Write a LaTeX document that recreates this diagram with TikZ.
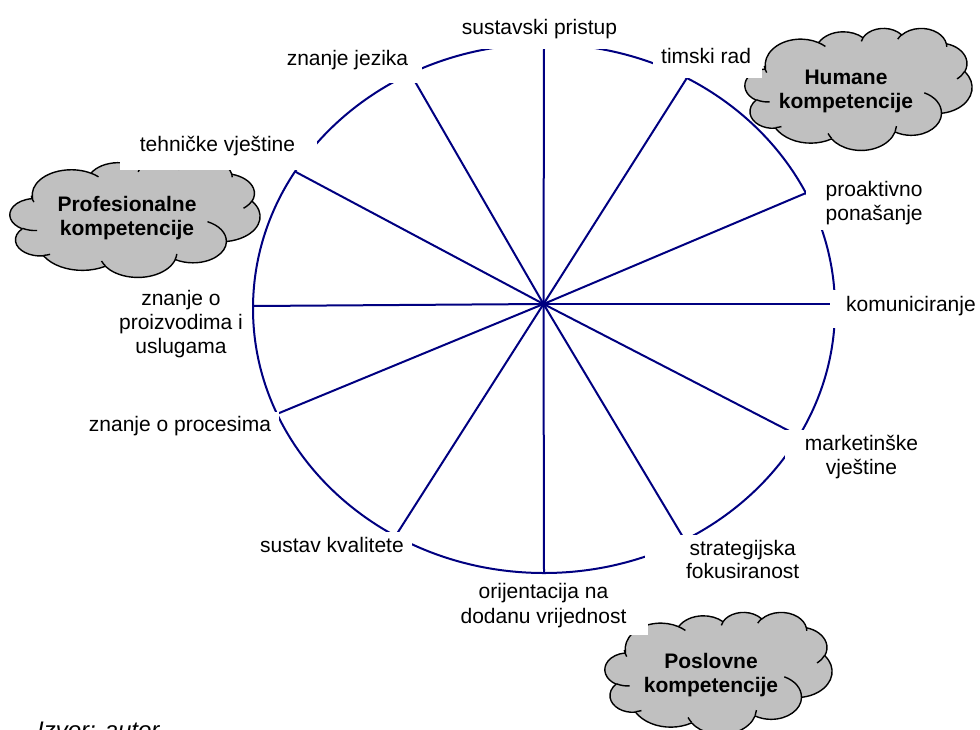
\documentclass[tikz,border=0pt]{standalone}
\usepackage{fontspec}
\setmainfont{Liberation Sans}
\definecolor{navyline}{RGB}{0,0,128}
\definecolor{cloudgray}{RGB}{192,192,192}
\newcommand{\lblfont}{\fontsize{21}{24}\selectfont}
\newcommand{\cldfont}{\fontsize{21}{24}\selectfont\bfseries}
\tikzset{
  rim/.style={draw=navyline, line width=2pt},
  spoke/.style={draw=navyline, line width=2pt},
  mask/.style={fill=white, draw=none},
  lbl/.style={font=\lblfont, inner sep=0pt, anchor=base},
  lblw/.style={font=\lblfont, inner sep=0pt, anchor=base west},
  cloudline/.style={draw=black, line width=1.4pt, line join=round},
  cloudtext/.style={font=\cldfont, align=center, inner sep=0pt},
  carc/.style n args={4}{insert path={
    arc[x radius=#1, y radius=#2,
        start angle={atan2(#1*sin(#3),#2*cos(#3))},
        delta angle={mod(atan2(#1*sin(#3+#4),#2*cos(#3+#4))-atan2(#1*sin(#3),#2*cos(#3))+720,360)}]}},
}
% cloud outline in a 432 x 432 box (x0, y0 = top left corner; units per step)
\newcommand{\wordcloud}[4]{%
\begin{scope}[shift={(#1,#2)}, x=#3pt, y=-#4pt]
  \filldraw[cloudline, fill=cloudgray] (39,143.7)
    [carc={67.53}{91.90}{-190.48748}{123.78053}]
    [carc={53.33}{72.67}{-144.10238}{89.94523}]
    [carc={43.65}{59.45}{-145.80792}{99.72302}]
    [carc={48.57}{65.95}{-130.98607}{117.24173}]
    [carc={53.33}{72.73}{-78.70888}{109.02692}]
    [carc={67.75}{92.20}{-46.26725}{130.269}]
    [carc={57.85}{78.67}{0.62502}{114.03333}]
    [carc={67.52}{92.15}{22.4516}{115.17255}]
    [carc={77.20}{105.43}{66.24263}{75.71102}]
    [carc={43.60}{59.18}{-274.94208}{146.73557}]
    [carc={43.45}{59.45}{-246.8285}{152.51885}] -- cycle;
  \draw[cloudline]
    (46.93,261.77) [carc={43.45}{59.45}{86.742}{26.4295}]
    (69.28,348.99) [carc={43.60}{59.18}{73.61047}{11.44747}]
    (164.78,390.90) [carc={67.52}{92.15}{137.62415}{14.0811}]
    (288.27,347.51) [carc={67.52}{92.15}{6.45327}{15.99835}]
    (341.29,229.54) [carc={57.85}{78.67}{-70.29235}{70.91737}]
    (417.98,153.54) [carc={53.33}{72.73}{30.31803}{27.7515}]
    (383.24,54.26) [carc={48.57}{65.95}{-13.74433}{14.8589}]
    (290.78,39.52) [carc={48.57}{65.95}{-149.18145}{18.19537}]
    (221.41,47.20) [carc={43.65}{59.45}{-163.49427}{17.68635}]
    (140.00,51.92) [carc={67.53}{91.90}{-66.70695}{12.31935}]
    (41.27,157.89) [carc={67.53}{91.90}{150.79283}{19.63368}];
\end{scope}}
\begin{document}
\begin{tikzpicture}[x=1pt,y=-1pt]
\useasboundingbox (0,0) rectangle (980,729);
% wheel
\coordinate (O) at (543.5,304);
\draw[rim] (544,308.5) ellipse [x radius=291pt, y radius=264.5pt];
\coordinate (e1) at (544,46);
\coordinate (e2) at (686.7,78.3);
\coordinate (e3) at (806,193);
\coordinate (e4) at (834,304);
\coordinate (e5) at (797,435);
\coordinate (e6) at (684.5,539.6);
\coordinate (e7) at (544,572.5);
\coordinate (e8) at (396.1,535.1);
\coordinate (e9) at (278.5,413.3);
\coordinate (e10) at (253,306);
\coordinate (e11) at (295.5,171.8);
\coordinate (e12) at (412.2,76.7);
\foreach \i in {1,...,12} { \draw[spoke] (O) -- (e\i); }
% clouds
\wordcloud{10}{159}{0.5787}{0.27315}
\wordcloud{745}{28}{0.52546}{0.28241}
\wordcloud{605}{612}{0.52546}{0.28241}
\node[cloudtext] (t1) at (127,218.4) {Profesionalne\\kompetencije};
\node[cloudtext] (t2) at (846,91.2) {Humane\\kompetencije};
\node[cloudtext] (t3) at (711,674.6) {Poslovne\\kompetencije};
% label backgrounds
\fill[mask] (455,8) rectangle (625,49);
\fill[mask] (653,40) rectangle (762,78.3);
\fill[mask] (806,172) rectangle (935,230);
\fill[mask] (830,290) rectangle (980,328);
\fill[mask] (785,430) rectangle (930,485);
\fill[mask] (645,535) rectangle (810,590);
\fill[mask] (455,578) rectangle (648,635);
\fill[mask] (250,532) rectangle (412,565);
\fill[mask] (80,411.5) rectangle (278.5,445);
\fill[mask] (110,287) rectangle (250,362);
\fill[mask] (120,125) rectangle (316.7,169.5);
\fill[mask] (280,45) rectangle (421.7,83.3);
% labels
\node[lbl] (l1) at (539.5,34) {sustavski pristup};
\node[lblw] (l2) at (661,63.3) {timski rad};
\node[lblw] (l3a) at (825.5,196.7) {proaktivno};
\node[lblw] (l3b) at (825.5,220.7) {ponašanje};
\node[lblw] (l4) at (846,311.7) {komuniciranje};
\node[lbl] (l5a) at (861.5,450) {marketinške};
\node[lbl] (l5b) at (861.5,474) {vještine};
\node[lbl] (l6a) at (742.7,555) {strategijska};
\node[lbl] (l6b) at (742.7,578.5) {fokusiranost};
\node[lbl] (l7a) at (543.5,598.5) {orijentacija na};
\node[lbl] (l7b) at (543.5,623) {dodanu vrijednost};
\node[lbl] (l8) at (332,552.7) {sustav kvalitete};
\node[lbl] (l9) at (180,431) {znanje o procesima};
\node[lbl] (l10a) at (181,305) {znanje o};
\node[lbl] (l10b) at (181,329.5) {proizvodima i};
\node[lbl] (l10c) at (181,353.5) {uslugama};
\node[lbl] (l11) at (217.5,151.7) {tehničke vještine};
\node[lbl] (l12) at (347.5,65) {znanje jezika};
\node[font=\fontsize{24}{28}\selectfont\itshape, inner sep=0pt, anchor=base west] (src) at (37,738) {Izvor: autor};
\end{tikzpicture}
\end{document}
